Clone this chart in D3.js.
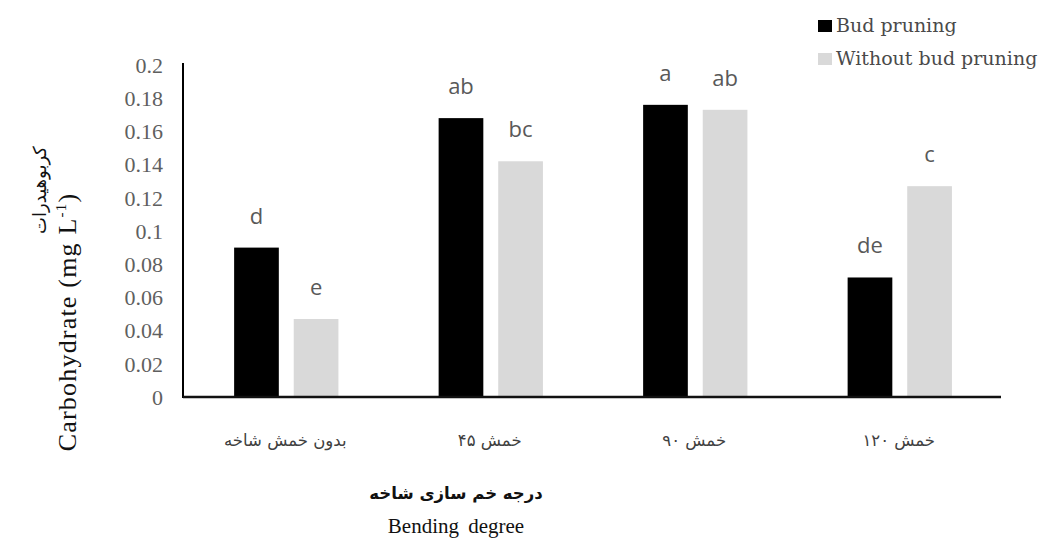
<!DOCTYPE html>
<html>
<head>
<meta charset="utf-8">
<script src="https://cdn.jsdelivr.net/npm/d3@7"></script>
<style>
  body { margin: 0; background: #fff; }
  .tick-lab { font-family: "Liberation Serif", "Times New Roman", serif; font-size: 22px; fill: #5f5f5f; }
  .letter { font-family: "Open Sans", "Noto Sans", sans-serif; font-size: 22px; fill: #595959; }
  .fa { font-family: "DejaVu Sans", sans-serif; }
  .legend-text { font-family: "DejaVu Serif", serif; font-size: 19px; fill: #4a4a4a; }
</style>
</head>
<body>
<script>
// data
var categories = ["بدون خمش شاخه", "خمش ۴۵", "خمش ۹۰", "خمش ۱۲۰"];
var series = ["Bud pruning", "Without bud pruning"];
var budPruning = [0.090, 0.168, 0.176, 0.072];
var withoutBudPruning = [0.047, 0.142, 0.173, 0.127];
var budLetters = ["d", "ab", "a", "de"];
var withoutLetters = ["e", "bc", "ab", "c"];
var yTicks = [0, 0.02, 0.04, 0.06, 0.08, 0.1, 0.12, 0.14, 0.16, 0.18, 0.2];

var colors = { "Bud pruning": "#000000", "Without bud pruning": "#d9d9d9" };

var width = 1041, height = 550;
var plotLeft = 183, plotRight = 1001, plotTop = 65, plotBottom = 397;

var svg = d3.select("body").append("svg")
    .attr("width", width)
    .attr("height", height);

var rows = categories.map(function(c, i) {
  return {
    cat: c,
    vals: [
      { s: series[0], v: budPruning[i], l: budLetters[i] },
      { s: series[1], v: withoutBudPruning[i], l: withoutLetters[i] }
    ]
  };
});

var x0 = d3.scaleBand().domain(categories).range([plotLeft, plotRight]).padding(0);
var bw = x0.bandwidth();
var x1 = d3.scaleBand().domain(series)
    .range([bw * 0.25, bw * 0.76])
    .paddingInner(0.25);
var y = d3.scaleLinear().domain([0, 0.2]).range([plotBottom, plotTop]);

// y tick labels (no tick marks)
svg.append("g").selectAll("text")
  .data(yTicks)
  .enter().append("text")
    .attr("class", "tick-lab")
    .attr("x", plotLeft - 20)
    .attr("y", function(d) { return y(d); })
    .attr("dy", "0.35em")
    .attr("text-anchor", "end")
    .text(function(d) { return d3.format("")(d); });

// bars
var groups = svg.selectAll(".grp")
  .data(rows)
  .enter().append("g")
    .attr("class", "grp")
    .attr("transform", function(d) { return "translate(" + x0(d.cat) + ",0)"; });

groups.selectAll("rect")
  .data(function(d) { return d.vals; })
  .enter().append("rect")
    .attr("x", function(d) { return x1(d.s); })
    .attr("y", function(d) { return y(d.v); })
    .attr("width", x1.bandwidth())
    .attr("height", function(d) { return y(0) - y(d.v); })
    .attr("fill", function(d) { return colors[d.s]; });

groups.selectAll(".letter")
  .data(function(d) { return d.vals; })
  .enter().append("text")
    .attr("class", "letter")
    .attr("x", function(d) { return x1(d.s) + x1.bandwidth() / 2; })
    .attr("y", function(d) { return y(d.v) - 24; })
    .attr("text-anchor", "middle")
    .text(function(d) { return d.l; });

// axes lines
svg.append("line")
    .attr("x1", plotLeft).attr("x2", plotLeft)
    .attr("y1", plotTop - 2).attr("y2", plotBottom + 1)
    .attr("stroke", "#000").attr("stroke-width", 2);
svg.append("line")
    .attr("x1", plotLeft).attr("x2", plotRight)
    .attr("y1", plotBottom).attr("y2", plotBottom)
    .attr("stroke", "#111").attr("stroke-width", 2.5);

// category labels
svg.append("g").selectAll("text")
  .data(categories)
  .enter().append("text")
    .attr("class", "fa")
    .attr("x", function(d) { return x0(d) + bw / 2; })
    .attr("y", 446)
    .attr("text-anchor", "middle")
    .attr("direction", "rtl")
    .style("font-size", "16.5px")
    .style("fill", "#404040")
    .text(function(d) { return d; });

// x titles
svg.append("text")
    .attr("class", "fa")
    .attr("x", 456).attr("y", 499)
    .attr("text-anchor", "middle")
    .attr("direction", "rtl")
    .style("font-size", "16.5px")
    .style("font-weight", "bold")
    .style("fill", "#111")
    .text("درجه خم سازی شاخه");
svg.append("text")
    .attr("x", 456).attr("y", 533)
    .attr("text-anchor", "middle")
    .style("font-family", "Liberation Serif, serif")
    .style("font-size", "21px")
    .style("fill", "#111")
    .style("word-spacing", "4px")
    .text("Bending degree");

// y titles
var yTitle = svg.append("text")
    .attr("transform", "translate(76,322) rotate(-90)")
    .attr("text-anchor", "middle")
    .style("font-family", "Liberation Serif, serif")
    .style("font-size", "26px")
    .style("letter-spacing", "1.2px")
    .style("fill", "#111");
yTitle.append("tspan").text("Carbohydrate (mg L");
yTitle.append("tspan").attr("dy", -10).style("font-size", "15px").text("-1");
yTitle.append("tspan").attr("dy", 10).text(")");

svg.append("text")
    .attr("class", "fa")
    .attr("transform", "translate(46,190) rotate(-90)")
    .attr("text-anchor", "middle")
    .attr("direction", "rtl")
    .style("font-size", "18px")
    .style("fill", "#111")
    .text("کربوهیدرات");

// legend
var legend = svg.append("g").selectAll("g")
  .data(series)
  .enter().append("g")
    .attr("transform", function(d, i) { return "translate(818," + (20 + i * 33) + ")"; });
legend.append("rect")
    .attr("width", 14).attr("height", 12)
    .attr("fill", function(d) { return colors[d]; });
legend.append("text")
    .attr("class", "legend-text")
    .attr("x", 18)
    .attr("y", 12)
    .text(function(d) { return d; });
</script>
</body>
</html>
